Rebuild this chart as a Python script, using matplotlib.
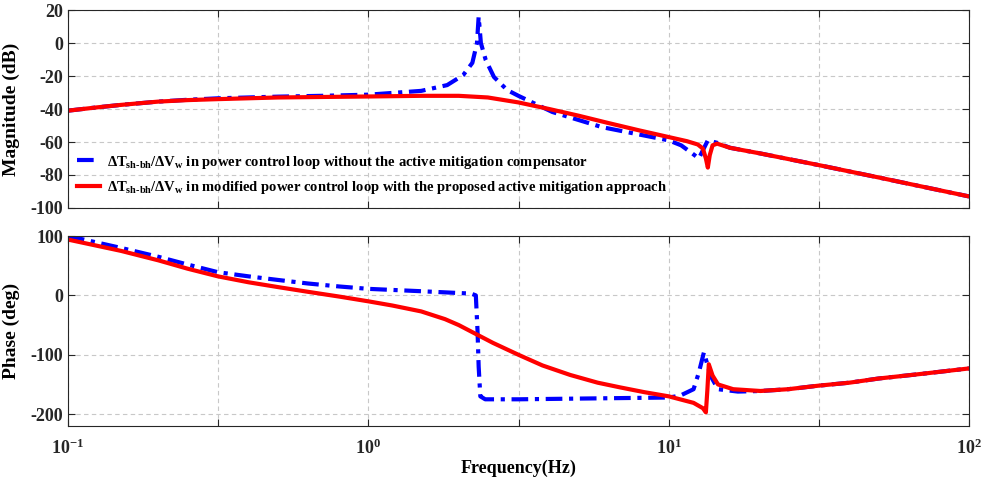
import numpy as np
import matplotlib
matplotlib.use("Agg")
import matplotlib.pyplot as plt
from matplotlib.ticker import FixedLocator, NullLocator, FixedFormatter

plt.rcParams['font.family'] = ['Liberation Serif', 'DejaVu Serif']
plt.rcParams['font.weight'] = 'bold'
plt.rcParams['axes.unicode_minus'] = False
plt.rcParams['mathtext.fontset'] = 'custom'
plt.rcParams['mathtext.rm'] = 'Liberation Serif:bold'
plt.rcParams['mathtext.it'] = 'Liberation Serif:bold'
plt.rcParams['mathtext.bf'] = 'Liberation Serif:bold'

# ---- data ----
f_mag_red = [0.1, 0.125, 0.15, 0.2, 0.25, 0.316, 0.5, 0.7, 1.0, 1.5, 2.0, 2.5, 3.16, 4.0, 5.0,
             6.3, 8.0, 10.0, 11.5, 12.5, 13.0, 13.3, 13.5, 13.7, 14.0, 14.5, 16.0, 20.0,
             31.6, 50.0, 100.0]
mag_red = [-41, -39, -37.5, -35.5, -34.6, -34, -33, -32.7, -32.4, -32, -32, -33, -36, -40, -44,
           -48.5, -53, -57, -59.5, -61.5, -64, -70, -75.5, -68, -62, -61, -63.5, -66.8,
           -74, -81.5, -93]

f_mag_blue = [0.1, 0.125, 0.15, 0.2, 0.25, 0.316, 0.5, 0.7, 1.0, 1.5, 1.83, 2.07, 2.22, 2.3,
              2.33, 2.37, 2.46, 2.62, 2.9, 3.16, 4.1, 6.0, 8.0, 10.0, 11.0, 12.0, 12.6, 13.0,
              13.5, 14.5, 16.0, 20.0, 31.6, 50.0, 100.0]
mag_blue = [-41, -39, -37.5, -35.5, -34.4, -33.5, -32.5, -32, -31.3, -29, -25.5, -19.4, -12, 0,
            16, 0, -10.3, -20.6, -28.5, -32, -41.8, -51, -55.5, -59, -62, -67, -70, -65,
            -59, -60.5, -63.5, -66.8, -74, -81.5, -93]

f_ph_red = [0.1, 0.15, 0.2, 0.25, 0.316, 0.4, 0.5, 0.63, 0.8, 1.0, 1.2, 1.5, 1.8, 2.0, 2.3,
            2.6, 3.16, 3.8, 4.7, 5.8, 6.9, 8.3, 10.0, 12.1, 13.0, 13.3, 13.45, 13.6, 14.0,
            14.6, 16.4, 20.2, 25.0, 31.6, 40.0, 50.0, 70.0, 100.0]
ph_red = [94, 75, 59, 45, 32, 22, 14, 6, -2, -10, -17, -27, -40, -50, -66,
          -80, -100, -118, -134, -147, -155, -163, -170, -181, -190, -197, -160, -116, -135,
          -150, -158, -161, -158, -152, -147, -140, -132, -123]

f_ph_blue = [0.1, 0.15, 0.2, 0.25, 0.316, 0.4, 0.5, 0.63, 0.8, 1.0, 1.5, 2.0, 2.2, 2.28, 2.31,
             2.33, 2.36, 2.45, 3.16, 10.0, 10.9, 12.1, 12.6, 13.1, 13.8, 14.6, 17.0, 20.2,
             25.0, 31.6, 40.0, 50.0, 70.0, 100.0]
ph_blue = [100, 80, 65, 52, 39, 32, 26, 20, 15, 11, 7, 4, 3, 0, -60,
           -120, -170, -175, -175, -172, -169, -158, -130, -96, -136, -158, -162, -161,
           -158, -152, -147, -140, -132, -123]

label_blue = r'$\Delta T_{sh\text{-}bh}/\Delta V_w$ in power control loop without the active mitigation compensator'
label_red = r'$\Delta T_{sh\text{-}bh}/\Delta V_w$ in modified power control loop with the proposed active mitigation approach'

xticks = [10 ** (k / 2) for k in range(-2, 5)]
xticklabels = [r'$10^{-1}$', '', r'$10^{0}$', '', r'$10^{1}$', '', r'$10^{2}$']

fig = plt.figure(figsize=(9.85, 4.79), dpi=100)
ax1 = fig.add_axes([0.069, 0.5658, 0.9148, 0.4132])
ax2 = fig.add_axes([0.069, 0.1106, 0.9148, 0.3967])

blue_ls = (0, (4, 1.6, 1, 1.6))
for ax in (ax1, ax2):
    ax.set_xscale('log')
    ax.set_xlim(0.1, 100)
    ax.xaxis.set_major_locator(FixedLocator(xticks))
    ax.xaxis.set_minor_locator(NullLocator())
    ax.grid(True, which='major', ls=(0, (4, 3)), color='#c8c8c8', lw=0.8)
    ax.tick_params(direction='in', top=True, right=True, length=5, width=0.8,
                   labelsize=13, colors='#262626')
    for s in ax.spines.values():
        s.set_color('#262626')
        s.set_linewidth(0.8)

ax1.plot(f_mag_blue, mag_blue, color='#0000ff', lw=3, ls=blue_ls, label=label_blue)
ax1.plot(f_mag_red, mag_red, color='#ff0000', lw=3, label=label_red)
ax1.set_ylim(-100, 20)
ax1.set_yticks(np.arange(-100, 21, 20))
ax1.set_xticklabels([])
ax1.set_ylabel('Magnitude (dB)', fontsize=14, fontweight='bold')
ax1.yaxis.set_label_coords(-0.053, 0.5)
leg = ax1.legend(loc='lower left', bbox_to_anchor=(0.0, 0.015), frameon=False, fontsize=10.5,
                 handlelength=1.6, handletextpad=0.5, labelspacing=0.6, borderaxespad=0.2)

ax2.plot(f_ph_blue, ph_blue, color='#0000ff', lw=3, ls=blue_ls)
ax2.plot(f_ph_red, ph_red, color='#ff0000', lw=3)
ax2.set_ylim(-220, 100)
ax2.set_yticks([-200, -100, 0, 100])
ax2.xaxis.set_major_formatter(FixedFormatter(xticklabels))
ax2.tick_params(axis='x', pad=9)
ax2.set_ylabel('Phase (deg)', fontsize=14, fontweight='bold')
ax2.yaxis.set_label_coords(-0.053, 0.5)
ax2.set_xlabel('Frequency(Hz)', fontsize=13, fontweight='bold', labelpad=1)

for ax in (ax1, ax2):
    for lab in ax.get_yticklabels() + ax.get_xticklabels():
        lab.set_fontweight('bold')

fig.savefig('out.png', dpi=100)
